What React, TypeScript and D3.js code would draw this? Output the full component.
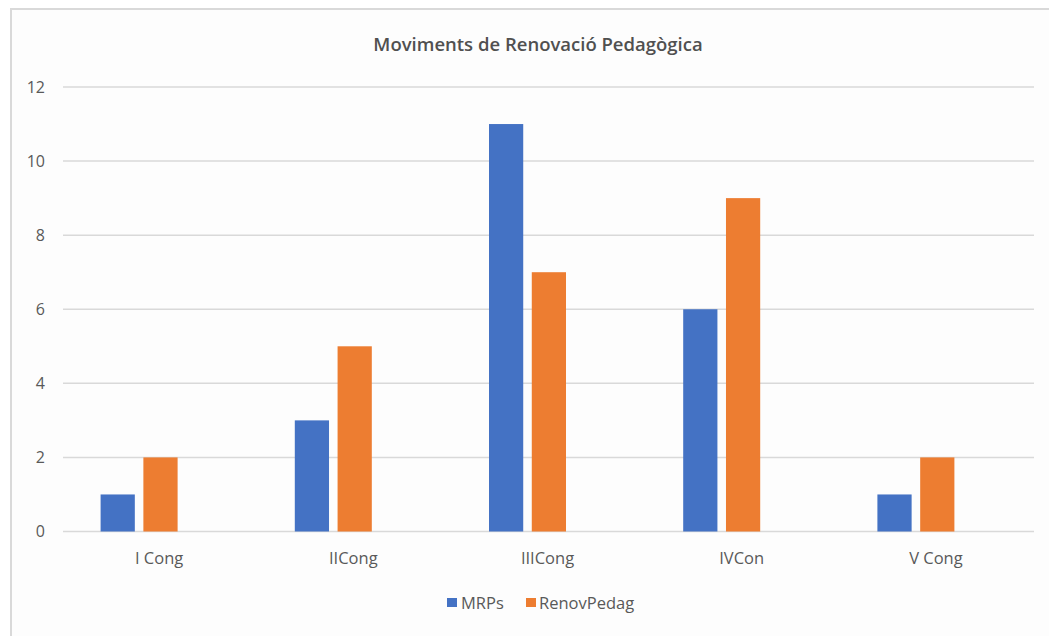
import React from 'react';
import * as d3 from 'd3';

// chart data
const categories = ['I Cong', 'IICong', 'IIICong', 'IVCon', 'V Cong'];
const seriesNames = ['MRPs', 'RenovPedag'];
const mrps = [1, 3, 11, 6, 1];
const renovPedag = [2, 5, 7, 9, 2];
const yTicks = [0, 2, 4, 6, 8, 10, 12];

const colors = ['#4472C4', '#ED7D31'];
const W = 1049;
const H = 636;
const font = "'Open Sans', 'Noto Sans', sans-serif";

const App: React.FC = () => {
  const values = [mrps, renovPedag];

  const x0 = d3.scaleBand().domain(categories).range([63, 1034]).padding(0);
  const x1 = d3.scaleBand().domain(seriesNames).range([-38.5, 38.5]).paddingInner(0.2);
  const y = d3.scaleLinear().domain([0, 12]).range([531.5, 87]);

  // bars sit a bit left of the category centre in the original picture
  const barShift = -21;

  return (
    <div style={{ position: 'absolute', left: 0, top: 0, width: W, height: H, background: '#fff' }}>
      <svg width={W} height={H} style={{ display: 'block' }}>
        <rect x={11} y={9} width={W} height={H} fill="#fdfdfd" stroke="#d9d9d9" strokeWidth={2} />

        <text x={538} y={45} dy="0.35em" textAnchor="middle" fontFamily={font} fontWeight={600}
          fontSize={18.5} fill="#505050">
          Moviments de Renovació Pedagògica
        </text>

        {/* grid + y labels */}
        {yTicks.map(t => (
          <g key={t}>
            <line x1={63} x2={1034} y1={y(t)} y2={y(t)} stroke="#d9d9d9" strokeWidth={1.5} />
            <text x={45} y={y(t)} dy="0.35em" textAnchor="end" fontFamily={font}
              fontSize={16} fill="#595959">{t}</text>
          </g>
        ))}

        {/* bars */}
        {categories.map((c, i) => (
          <g key={c} transform={`translate(${x0(c)! + x0.bandwidth() / 2 + barShift},0)`}>
            {seriesNames.map((s, j) => (
              <rect key={s} x={x1(s)} y={y(values[j][i])} width={x1.bandwidth()}
                height={y(0) - y(values[j][i])} fill={colors[j]} />
            ))}
          </g>
        ))}

        {/* x labels */}
        {categories.map(c => (
          <text key={c} x={x0(c)! + x0.bandwidth() / 2 - 1} y={558} dy="0.35em" textAnchor="middle"
            fontFamily={font} fontSize={16.5} fill="#595959">{c}</text>
        ))}

        {/* legend */}
        <g>
          <rect x={447} y={598} width={10} height={9} fill={colors[0]} />
          <text x={461} y={603} dy="0.35em" fontFamily={font} fontSize={16.5} fill="#595959">{seriesNames[0]}</text>
          <rect x={526} y={598} width={10} height={9} fill={colors[1]} />
          <text x={539} y={603} dy="0.35em" fontFamily={font} fontSize={16.5} fill="#595959">{seriesNames[1]}</text>
        </g>
      </svg>
    </div>
  );
};

export default App;
